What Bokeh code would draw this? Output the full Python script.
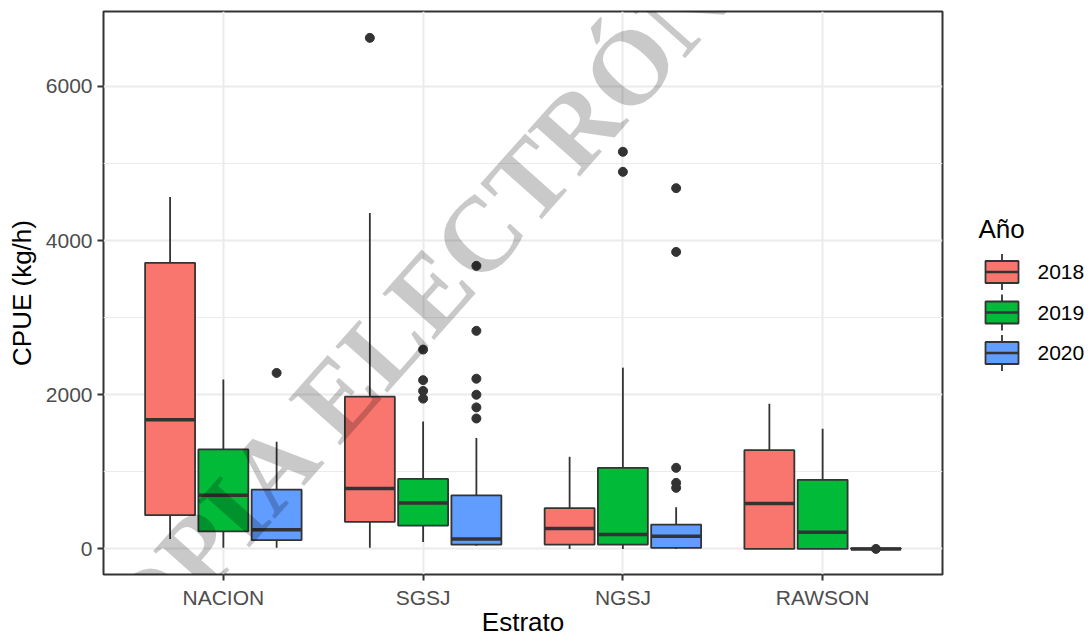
from bokeh.plotting import figure
from bokeh.models import (ColumnDataSource, FactorRange, Range1d, FixedTicker, Label)
from bokeh.transform import dodge
from bokeh.layouts import row
from bokeh.core.properties import value
from bokeh.embed import file_html
from bokeh.resources import INLINE

# ---------------- data ----------------
cats = ["NACION", "SGSJ", "NGSJ", "RAWSON"]
years = ["2018", "2019", "2020"]
colors = ["#F8766D", "#00BA38", "#619CFF"]

lower_2018 = [130, 15, 0, 0]
q1_2018 = [437, 352, 56, 0]
median_2018 = [1677, 784, 264, 589]
q3_2018 = [3712, 1975, 528, 1281]
upper_2018 = [4566, 4357, 1195, 1883]
out_cat_2018 = ["SGSJ"]
out_val_2018 = [6630]

lower_2019 = [15, 89, 0, 0]
q1_2019 = [228, 303, 56, 0]
median_2019 = [695, 596, 186, 216]
q3_2019 = [1290, 908, 1052, 896]
upper_2019 = [2198, 1653, 2351, 1558]
out_cat_2019 = ["SGSJ", "SGSJ", "SGSJ", "SGSJ", "NGSJ", "NGSJ"]
out_val_2019 = [2586, 2189, 2050, 1950, 5152, 4892]

lower_2020 = [15, 40, 0, 0]
q1_2020 = [114, 55, 13, 0]
median_2020 = [248, 129, 165, 0]
q3_2020 = [769, 695, 316, 8]
upper_2020 = [1390, 1439, 541, 10]
out_cat_2020 = ["NACION", "SGSJ", "SGSJ", "SGSJ", "SGSJ", "SGSJ", "SGSJ",
                "NGSJ", "NGSJ", "NGSJ", "NGSJ", "NGSJ", "RAWSON"]
out_val_2020 = [2283, 3672, 2829, 2208, 2000, 1836, 1692,
                4680, 3853, 1052, 857, 792, 0]

y_ticks = [0, 2000, 4000, 6000]
y_minor = [1000, 3000, 5000]

stats = {
    "2018": (lower_2018, q1_2018, median_2018, q3_2018, upper_2018, out_cat_2018, out_val_2018),
    "2019": (lower_2019, q1_2019, median_2019, q3_2019, upper_2019, out_cat_2019, out_val_2019),
    "2020": (lower_2020, q1_2020, median_2020, q3_2020, upper_2020, out_cat_2020, out_val_2020),
}

FONT = "Liberation Sans"
DARK = "#333333"
GRID = "#EBEBEB"
H = 639
TOP = 11
BOTTOM = 65

# ---------------- main plot ----------------
p = figure(width=968, height=H, output_backend="svg", toolbar_location=None,
           x_range=FactorRange(factors=cats, range_padding=0.1, range_padding_units="absolute"),
           y_range=Range1d(-332, 6972),
           min_border_left=103, min_border_right=26, min_border_top=TOP, min_border_bottom=BOTTOM)
p.background_fill_color = "white"
p.border_fill_color = "white"
p.outline_line_color = DARK
p.outline_line_width = 2

p.yaxis.ticker = FixedTicker(ticks=y_ticks, minor_ticks=y_minor)
p.xgrid.grid_line_color = GRID
p.xgrid.grid_line_width = 2
p.ygrid.grid_line_color = GRID
p.ygrid.grid_line_width = 2
p.ygrid.minor_grid_line_color = GRID
p.ygrid.minor_grid_line_width = 1.2

for ax in (p.xaxis, p.yaxis):
    ax.axis_line_color = None
    ax.major_tick_line_color = DARK
    ax.major_tick_line_width = 2
    ax.major_tick_out = 6
    ax.major_tick_in = 0
    ax.minor_tick_out = 0
    ax.minor_tick_in = 0
    ax.major_label_text_font = FONT
    ax.major_label_text_font_size = "21px"
    ax.major_label_text_color = "#4D4D4D"
    ax.major_label_standoff = 5
    ax.axis_label_text_font = FONT
    ax.axis_label_text_font_size = "26px"
    ax.axis_label_text_font_style = "normal"
    ax.axis_label_text_color = "black"

p.xaxis.axis_label = "Estrato"
p.xaxis.axis_label_standoff = -5
p.yaxis.axis_label = "CPUE (kg/h)"
p.yaxis.axis_label_standoff = 6
p.yaxis.formatter.use_scientific = False

dodge_step = 0.8 / 3
half_box = 0.125

for i, yr in enumerate(years):
    lo, q1, md, q3, up, oc, ov = stats[yr]
    off = (i - 1) * dodge_step
    src = ColumnDataSource(dict(cat=cats, lower=lo, q1=q1, med=md, q3=q3, upper=up))
    xc = dodge("cat", off, range=p.x_range)
    p.segment(x0=xc, x1=xc, y0="q3", y1="upper", source=src,
              line_color=DARK, line_width=1.8)
    p.segment(x0=xc, x1=xc, y0="lower", y1="q1", source=src,
              line_color=DARK, line_width=1.8)
    p.vbar(x=xc, width=0.25, top="q3", bottom="q1", source=src,
           fill_color=colors[i], line_color=DARK, line_width=1.8)
    p.segment(x0=dodge("cat", off - half_box, range=p.x_range),
              x1=dodge("cat", off + half_box, range=p.x_range),
              y0="med", y1="med", source=src, line_color=DARK, line_width=3.5)
    osrc = ColumnDataSource(dict(cat=oc, val=ov))
    p.scatter(x=xc, y="val", source=osrc, size=9, fill_color=DARK, line_color=DARK)

# watermark
p.add_layout(Label(x=1.667, y=3727, x_units="data", y_units="data",
                   text="COPIA ELECTRÓNICA", angle=0.843,
                   text_align="center", text_baseline="middle",
                   text_font="Liberation Serif", text_font_size="106px",
                   text_font_style="bold",
                   text_color="black", text_alpha=0.21))

# ---------------- legend panel ----------------
lg = figure(width=1092 - 968, height=H, output_backend="svg", toolbar_location=None,
            x_range=Range1d(0, 1092 - 968), y_range=Range1d(H - BOTTOM, TOP),
            x_axis_type=None, y_axis_type=None,
            min_border_left=0, min_border_right=0, min_border_top=TOP, min_border_bottom=BOTTOM)
lg.outline_line_color = None
lg.grid.visible = False
lg.background_fill_color = "white"
lg.border_fill_color = "white"

key_y = [271.5 + 40.5 * k for k in range(len(years))]
lsrc = ColumnDataSource(dict(y=key_y, ytop=[v - 11 for v in key_y], ybot=[v + 11 for v in key_y],
                             wtop=[v - 18 for v in key_y], wbot=[v + 18 for v in key_y],
                             x=[33.5] * 3, xl=[17] * 3, xr=[50] * 3, tx=[69] * 3,
                             color=colors, label=years))
lg.segment(x0="x", x1="x", y0="wtop", y1="wbot", source=lsrc, line_color=DARK, line_width=1.8)
lg.vbar(x="x", width=33, top="ytop", bottom="ybot", source=lsrc,
        fill_color="color", line_color=DARK, line_width=1.8)
lg.segment(x0="xl", x1="xr", y0="y", y1="y", source=lsrc, line_color=DARK, line_width=2.5)
lg.text(x="tx", y="y", text="label", source=lsrc, text_font=value(FONT),
        text_font_size="21px", text_baseline="middle", text_align="left", text_color="black")
lg.text(x=[10], y=[228], text=["Año"], text_font=value(FONT), text_font_size="26px",
        text_baseline="middle", text_align="left", text_color="black")

layout = row(p, lg)
open("out.html", "w").write(file_html(layout, INLINE))
